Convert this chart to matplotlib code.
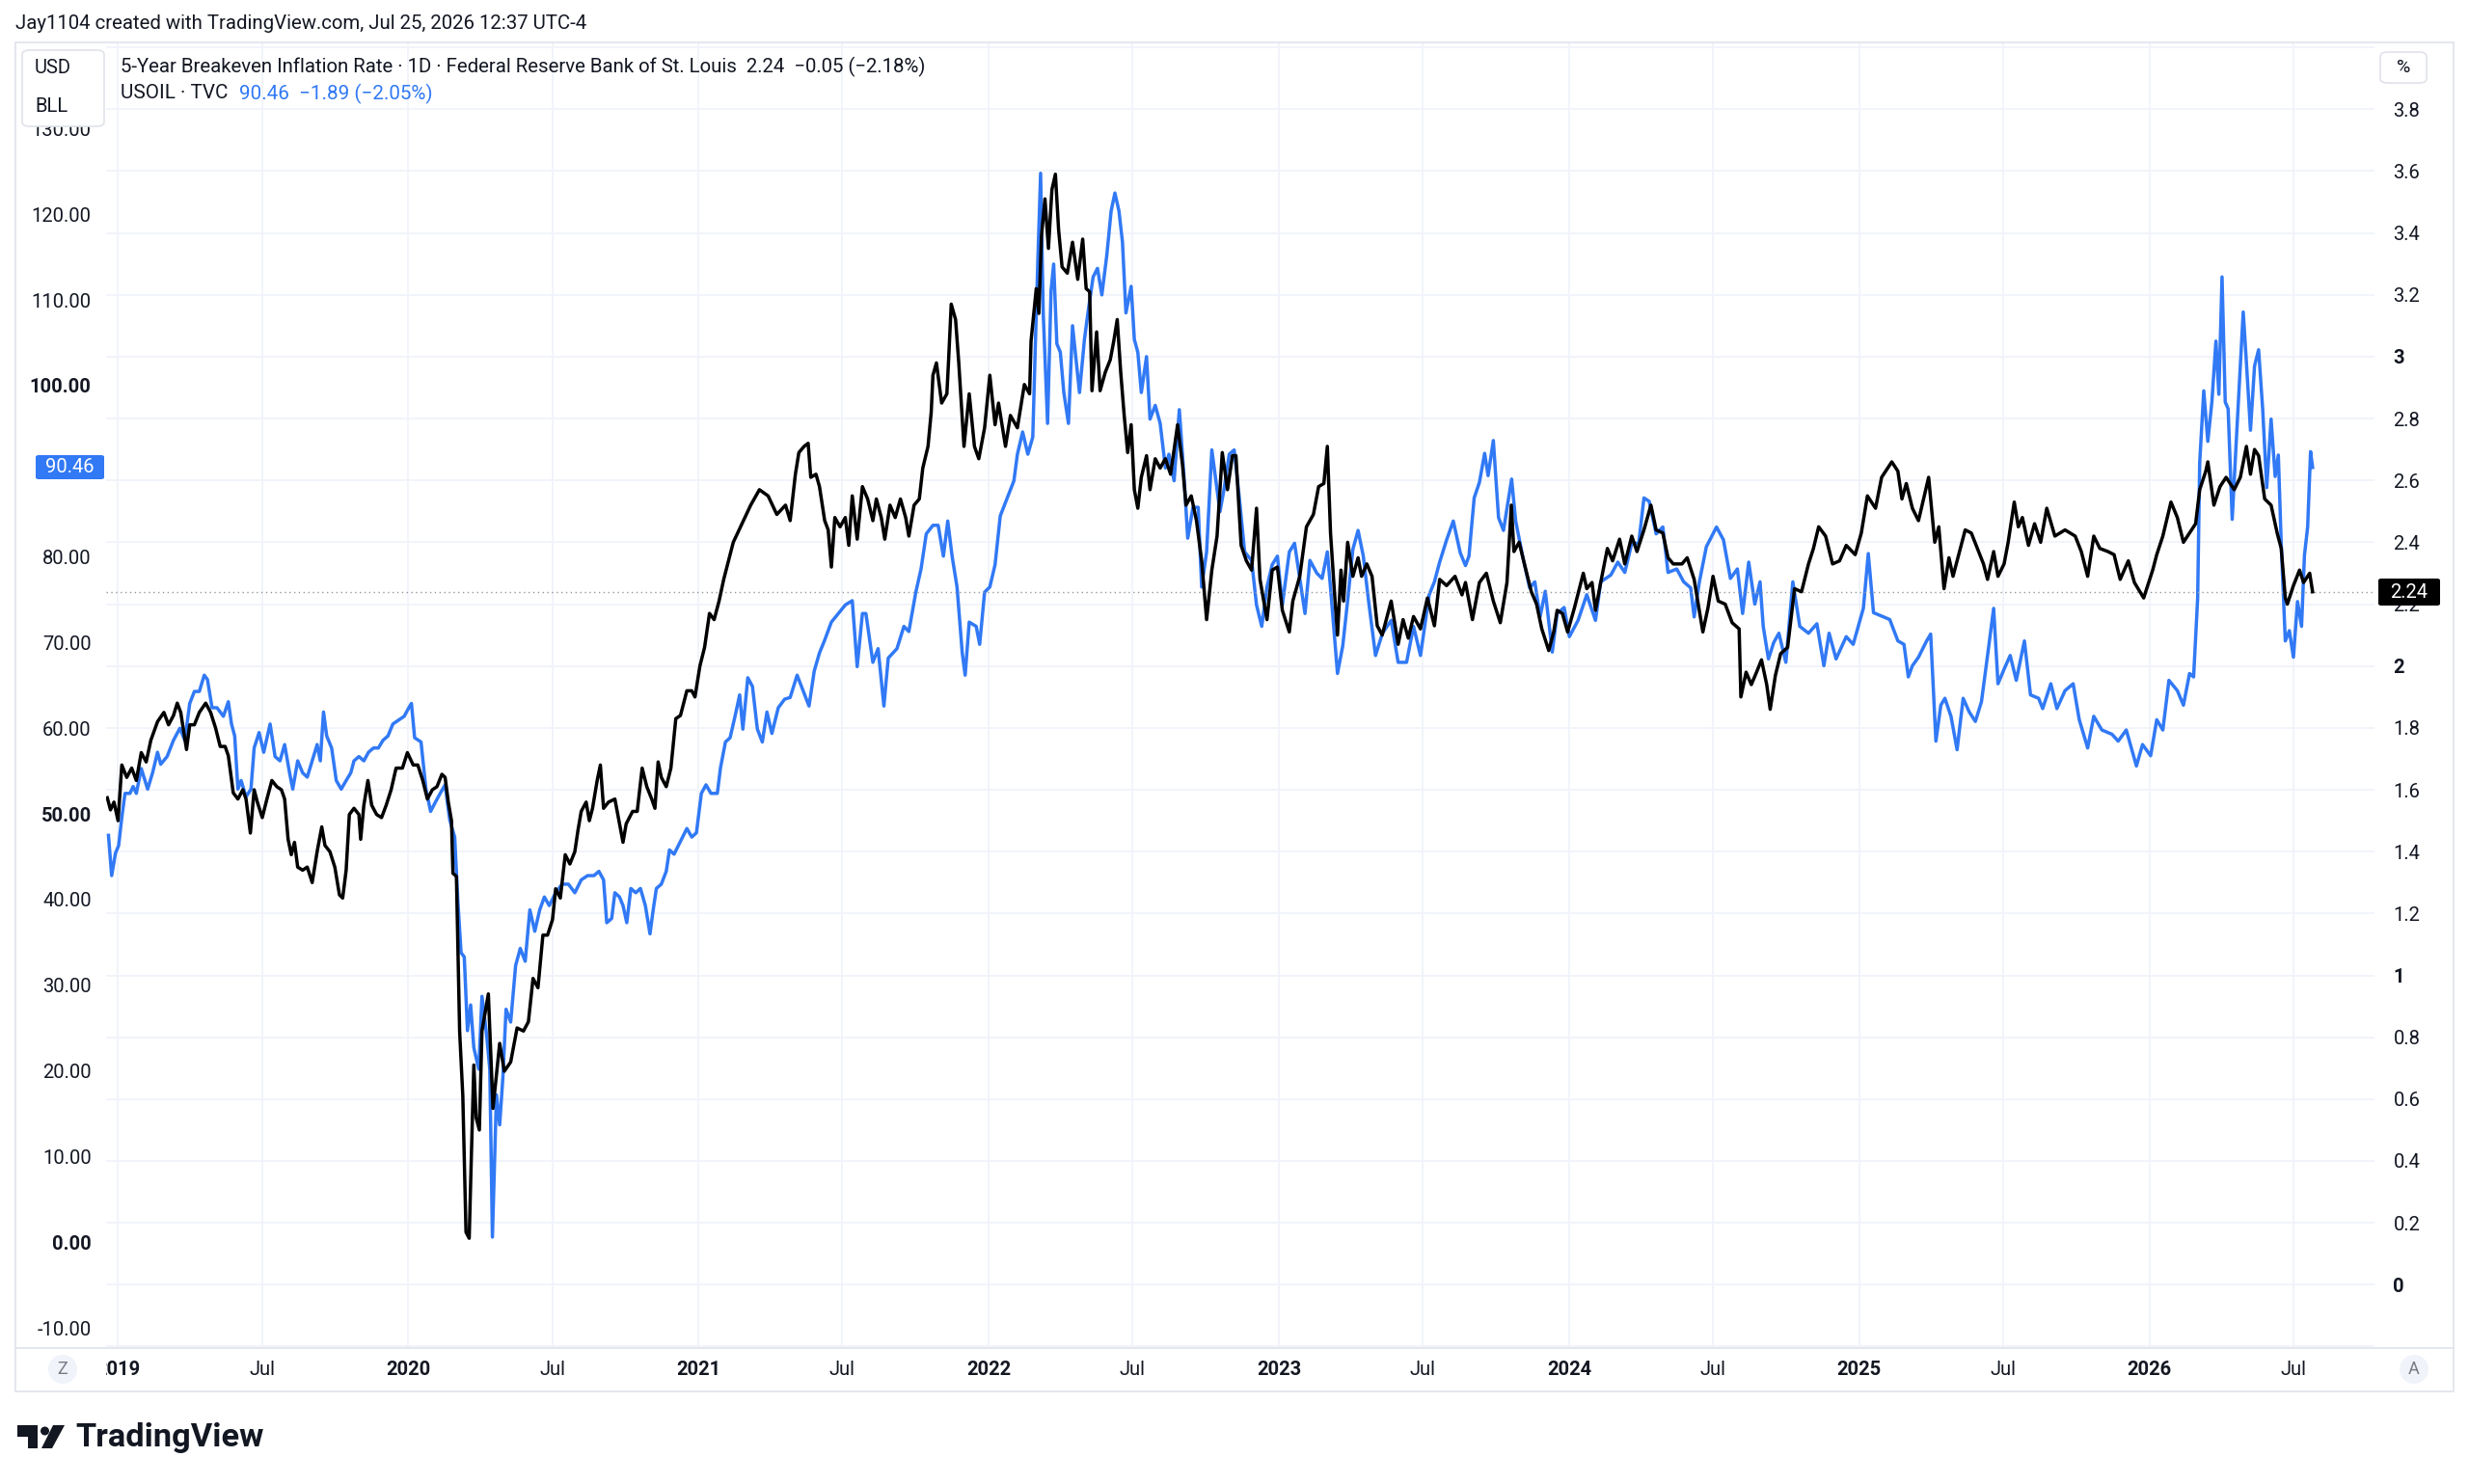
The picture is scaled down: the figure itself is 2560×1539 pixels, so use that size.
import matplotlib
matplotlib.use("Agg")
import matplotlib.pyplot as plt
from matplotlib.patches import FancyBboxPatch, Rectangle, Ellipse, Polygon
from matplotlib.lines import Line2D

plt.rcParams['font.family'] = ['Roboto', 'DejaVu Sans']

# ---------------- data (decimal years) ----------------
be_t = [2018.963, 2018.974, 2018.986, 2019.000, 2019.013, 2019.030, 2019.047, 2019.063, 2019.080, 2019.097,
        2019.113, 2019.136, 2019.158, 2019.174, 2019.191, 2019.204, 2019.216, 2019.236, 2019.247, 2019.263,
        2019.280, 2019.302, 2019.319, 2019.336, 2019.352, 2019.369, 2019.380, 2019.397, 2019.413, 2019.430,
        2019.441, 2019.456, 2019.469, 2019.480, 2019.497, 2019.513, 2019.530, 2019.547, 2019.563, 2019.574,
        2019.586, 2019.597, 2019.608, 2019.619, 2019.636, 2019.652, 2019.669, 2019.686, 2019.702, 2019.713,
        2019.730, 2019.747, 2019.763, 2019.774, 2019.786, 2019.797, 2019.813, 2019.830, 2019.836, 2019.847,
        2019.861, 2019.874, 2019.891, 2019.908, 2019.924, 2019.941, 2019.958, 2019.980, 2019.997,
        2020.017, 2020.033, 2020.050, 2020.066, 2020.083, 2020.099, 2020.116, 2020.127, 2020.138, 2020.149,
        2020.154, 2020.166, 2020.177, 2020.188, 2020.199, 2020.210, 2020.215, 2020.226, 2020.234, 2020.245,
        2020.254, 2020.276, 2020.292, 2020.304, 2020.315, 2020.331, 2020.353, 2020.375, 2020.397, 2020.414,
        2020.430, 2020.447, 2020.464, 2020.480, 2020.497, 2020.508, 2020.524, 2020.541, 2020.557, 2020.574,
        2020.585, 2020.596, 2020.613, 2020.624, 2020.635, 2020.651, 2020.662, 2020.673, 2020.690, 2020.712,
        2020.728, 2020.740, 2020.751, 2020.773, 2020.789, 2020.806, 2020.822, 2020.839, 2020.850, 2020.861,
        2020.872, 2020.889, 2020.905, 2020.922, 2020.938, 2020.960, 2020.977, 2020.988, 2021.005, 2021.021,
        2021.038, 2021.054, 2021.071, 2021.087, 2021.120, 2021.150, 2021.180, 2021.210, 2021.240, 2021.270,
        2021.300,
        2021.316, 2021.334, 2021.346, 2021.364, 2021.378, 2021.387, 2021.405, 2021.417, 2021.435, 2021.447,
        2021.458, 2021.470, 2021.488, 2021.506, 2021.518, 2021.530, 2021.547, 2021.565, 2021.583, 2021.601,
        2021.613, 2021.630, 2021.642, 2021.660, 2021.678, 2021.696, 2021.714, 2021.725, 2021.743, 2021.761,
        2021.773, 2021.791, 2021.802, 2021.808, 2021.820, 2021.838, 2021.856, 2021.862, 2021.871, 2021.886,
        2021.897, 2021.915, 2021.933, 2021.951, 2021.966, 2021.986, 2022.004, 2022.022, 2022.034, 2022.046,
        2022.058, 2022.075, 2022.099, 2022.123, 2022.141, 2022.146, 2022.164, 2022.173, 2022.182, 2022.194,
        2022.206, 2022.218, 2022.230, 2022.241, 2022.253, 2022.271, 2022.289, 2022.307, 2022.324, 2022.336,
        2022.348, 2022.356, 2022.372, 2022.384, 2022.402, 2022.419, 2022.431, 2022.443, 2022.455, 2022.467,
        2022.479, 2022.491, 2022.502, 2022.514, 2022.526, 2022.544, 2022.556, 2022.574, 2022.591, 2022.609,
        2022.627, 2022.651, 2022.668, 2022.680, 2022.698, 2022.716, 2022.734, 2022.751, 2022.769, 2022.787,
        2022.805, 2022.823, 2022.840, 2022.852, 2022.870, 2022.888, 2022.906, 2022.923, 2022.935, 2022.959,
        2022.977, 2022.995, 2023.012, 2023.036, 2023.048, 2023.072, 2023.095, 2023.119, 2023.137, 2023.155,
        2023.167,
        2023.178, 2023.190, 2023.202, 2023.214, 2023.223, 2023.237, 2023.255, 2023.273, 2023.285, 2023.303,
        2023.321, 2023.339, 2023.356, 2023.387, 2023.411, 2023.428, 2023.446, 2023.464, 2023.488, 2023.512,
        2023.536, 2023.554, 2023.578, 2023.607, 2023.631, 2023.643, 2023.667, 2023.691, 2023.715, 2023.739,
        2023.763, 2023.786, 2023.801, 2023.810, 2023.828, 2023.846, 2023.870, 2023.888, 2023.906, 2023.930,
        2023.947, 2023.959, 2023.977, 2023.995, 2024.019, 2024.049, 2024.061, 2024.079, 2024.091, 2024.109,
        2024.132, 2024.150, 2024.174, 2024.192, 2024.216, 2024.234, 2024.258, 2024.282, 2024.300, 2024.323,
        2024.341, 2024.359, 2024.389, 2024.407, 2024.431, 2024.461, 2024.479, 2024.496, 2024.514, 2024.538,
        2024.562, 2024.586, 2024.592, 2024.610, 2024.628, 2024.646, 2024.663, 2024.681, 2024.693, 2024.711,
        2024.729, 2024.753, 2024.777, 2024.801, 2024.825, 2024.842, 2024.860, 2024.884, 2024.908, 2024.932,
        2024.955,
        2024.986, 2025.007, 2025.028, 2025.056, 2025.077, 2025.112, 2025.133, 2025.147, 2025.162, 2025.183,
        2025.204, 2025.239, 2025.260, 2025.274, 2025.292, 2025.309, 2025.323, 2025.351, 2025.365, 2025.386,
        2025.407, 2025.428, 2025.442, 2025.463, 2025.478, 2025.499, 2025.513, 2025.534, 2025.548, 2025.562,
        2025.583, 2025.604, 2025.625, 2025.646, 2025.674, 2025.709, 2025.744, 2025.765, 2025.787, 2025.808,
        2025.829, 2025.857, 2025.878, 2025.899, 2025.927, 2025.948, 2025.980, 2026.011, 2026.025, 2026.046,
        2026.074, 2026.096, 2026.117, 2026.138, 2026.159, 2026.173, 2026.194, 2026.201, 2026.222, 2026.243,
        2026.264, 2026.292, 2026.313, 2026.334, 2026.348, 2026.362, 2026.376, 2026.397, 2026.419, 2026.440,
        2026.454, 2026.468, 2026.475, 2026.496, 2026.517, 2026.531, 2026.552, 2026.562]
be_v = [1.574, 1.535, 1.56, 1.50, 1.68, 1.64, 1.67, 1.63, 1.72, 1.69,
        1.76, 1.82, 1.85, 1.81, 1.84, 1.88, 1.85, 1.73, 1.81, 1.81,
        1.85, 1.88, 1.85, 1.80, 1.74, 1.74, 1.71, 1.59, 1.57, 1.60,
        1.57, 1.46, 1.60, 1.56, 1.51, 1.57, 1.63, 1.61, 1.60, 1.57,
        1.44, 1.39, 1.43, 1.35, 1.34, 1.35, 1.30, 1.40, 1.48, 1.42,
        1.40, 1.35, 1.26, 1.25, 1.34, 1.52, 1.54, 1.52, 1.44, 1.55,
        1.63, 1.55, 1.52, 1.51, 1.55, 1.60, 1.67, 1.67, 1.72,
        1.68, 1.68, 1.63, 1.57, 1.60, 1.61, 1.65, 1.64, 1.56, 1.50,
        1.33, 1.32, 0.82, 0.61, 0.17, 0.15, 0.33, 0.71, 0.54, 0.50,
        0.82, 0.94, 0.57, 0.68, 0.78, 0.69, 0.72, 0.83, 0.82, 0.85,
        0.99, 0.96, 1.13, 1.13, 1.18, 1.28, 1.25, 1.39, 1.36, 1.40,
        1.47, 1.53, 1.56, 1.50, 1.54, 1.63, 1.68, 1.54, 1.56, 1.57,
        1.49, 1.43, 1.49, 1.53, 1.53, 1.67, 1.61, 1.57, 1.54, 1.69,
        1.64, 1.61, 1.67, 1.83, 1.84, 1.92, 1.92, 1.90, 2.00, 2.06,
        2.17, 2.15, 2.21, 2.28, 2.40, 2.46, 2.52, 2.57, 2.55, 2.49,
        2.52,
        2.47, 2.62, 2.69, 2.71, 2.72, 2.61, 2.62, 2.58, 2.47, 2.44,
        2.32, 2.48, 2.45, 2.48, 2.39, 2.55, 2.41, 2.58, 2.54, 2.47,
        2.54, 2.48, 2.41, 2.52, 2.48, 2.54, 2.48, 2.42, 2.52, 2.54,
        2.64, 2.71, 2.82, 2.94, 2.98, 2.85, 2.88, 2.99, 3.17, 3.12,
        2.98, 2.71, 2.88, 2.71, 2.67, 2.77, 2.94, 2.78, 2.85, 2.78,
        2.71, 2.81, 2.77, 2.91, 2.88, 3.05, 3.22, 3.14, 3.39, 3.51,
        3.35, 3.54, 3.59, 3.41, 3.29, 3.27, 3.37, 3.25, 3.38, 3.22,
        3.21, 2.89, 3.08, 2.89, 2.95, 2.99, 3.05, 3.12, 2.95, 2.81,
        2.69, 2.78, 2.57, 2.51, 2.61, 2.68, 2.57, 2.67, 2.64, 2.67,
        2.62, 2.78, 2.65, 2.52, 2.55, 2.47, 2.34, 2.15, 2.31, 2.42,
        2.69, 2.57, 2.68, 2.68, 2.39, 2.34, 2.31, 2.51, 2.28, 2.15,
        2.31, 2.32, 2.18, 2.11, 2.21, 2.29, 2.45, 2.49, 2.58, 2.59,
        2.71,
        2.43, 2.26, 2.10, 2.31, 2.21, 2.40, 2.29, 2.35, 2.29, 2.33,
        2.29, 2.13, 2.10, 2.21, 2.07, 2.15, 2.09, 2.16, 2.12, 2.22,
        2.13, 2.28, 2.26, 2.29, 2.23, 2.27, 2.15, 2.27, 2.30, 2.21,
        2.14, 2.27, 2.52, 2.37, 2.40, 2.33, 2.24, 2.20, 2.12, 2.05,
        2.11, 2.18, 2.17, 2.11, 2.19, 2.30, 2.25, 2.27, 2.18, 2.27,
        2.38, 2.34, 2.41, 2.33, 2.42, 2.37, 2.44, 2.52, 2.44, 2.43,
        2.35, 2.33, 2.33, 2.35, 2.28, 2.11, 2.19, 2.29, 2.21, 2.20,
        2.14, 2.12, 1.90, 1.98, 1.94, 1.98, 2.02, 1.94, 1.86, 1.97,
        2.04, 2.06, 2.25, 2.24, 2.33, 2.38, 2.45, 2.42, 2.33, 2.34,
        2.39,
        2.36, 2.43, 2.55, 2.51, 2.61, 2.66, 2.63, 2.54, 2.59, 2.51,
        2.47, 2.61, 2.40, 2.45, 2.25, 2.35, 2.29, 2.39, 2.44, 2.43,
        2.38, 2.33, 2.28, 2.37, 2.29, 2.33, 2.40, 2.53, 2.45, 2.48,
        2.39, 2.46, 2.40, 2.51, 2.42, 2.44, 2.42, 2.37, 2.29, 2.42,
        2.38, 2.37, 2.36, 2.28, 2.34, 2.27, 2.22, 2.31, 2.36, 2.42,
        2.53, 2.48, 2.40, 2.43, 2.46, 2.57, 2.63, 2.66, 2.52, 2.58,
        2.61, 2.57, 2.61, 2.71, 2.62, 2.70, 2.68, 2.54, 2.52, 2.43,
        2.38, 2.22, 2.20, 2.26, 2.31, 2.27, 2.30, 2.24]

oil_t = [2018.967, 2018.978, 2018.991, 2019.002, 2019.013, 2019.024, 2019.041, 2019.052, 2019.063, 2019.080,
         2019.102, 2019.119, 2019.136, 2019.147, 2019.169, 2019.191, 2019.213, 2019.230, 2019.247, 2019.263,
         2019.280, 2019.297, 2019.308, 2019.324, 2019.341, 2019.363, 2019.380, 2019.391, 2019.402, 2019.413,
         2019.424, 2019.441, 2019.458, 2019.469, 2019.486, 2019.502, 2019.524, 2019.541, 2019.558, 2019.574,
         2019.591, 2019.602, 2019.619, 2019.636, 2019.652, 2019.669, 2019.686, 2019.697, 2019.708, 2019.719,
         2019.736, 2019.752, 2019.769, 2019.786, 2019.802, 2019.813, 2019.830, 2019.847, 2019.863, 2019.880,
         2019.897, 2019.913, 2019.930, 2019.947, 2019.969, 2019.986, 2020.002, 2020.011,
         2020.022, 2020.044, 2020.061, 2020.077, 2020.094, 2020.110, 2020.127, 2020.143, 2020.160, 2020.171,
         2020.182, 2020.193, 2020.204, 2020.215, 2020.226, 2020.243, 2020.254, 2020.270, 2020.281, 2020.290,
         2020.304, 2020.315, 2020.326, 2020.337, 2020.353, 2020.370, 2020.386, 2020.403, 2020.419, 2020.436,
         2020.453, 2020.469, 2020.486, 2020.508, 2020.530, 2020.552, 2020.574, 2020.596, 2020.618, 2020.640,
         2020.657, 2020.673, 2020.684, 2020.701, 2020.712, 2020.728, 2020.740, 2020.753, 2020.767, 2020.784,
         2020.800, 2020.817, 2020.833, 2020.844, 2020.855, 2020.872, 2020.889, 2020.900, 2020.916, 2020.938,
         2020.960, 2020.977, 2020.993, 2021.010, 2021.026, 2021.043, 2021.065, 2021.076, 2021.093, 2021.109,
         2021.126, 2021.142, 2021.153, 2021.170, 2021.186, 2021.203, 2021.220, 2021.236, 2021.253, 2021.275,
         2021.297,
         2021.316, 2021.340, 2021.364, 2021.381, 2021.399, 2021.417, 2021.435, 2021.458, 2021.482, 2021.506,
         2021.530, 2021.547, 2021.565, 2021.577, 2021.601, 2021.619, 2021.639, 2021.654, 2021.684, 2021.708,
         2021.725, 2021.749, 2021.767, 2021.785, 2021.808, 2021.826, 2021.844, 2021.859, 2021.874, 2021.891,
         2021.909, 2021.919, 2021.933, 2021.957, 2021.969, 2021.986, 2022.004, 2022.022, 2022.040, 2022.063,
         2022.087, 2022.099, 2022.117, 2022.135, 2022.152, 2022.161, 2022.170, 2022.179, 2022.188, 2022.203,
         2022.215, 2022.224, 2022.235, 2022.247, 2022.259, 2022.275, 2022.289, 2022.313, 2022.330, 2022.342,
         2022.360, 2022.375, 2022.390, 2022.407, 2022.422, 2022.435, 2022.449, 2022.461, 2022.473, 2022.491,
         2022.502, 2022.514, 2022.526, 2022.544, 2022.556, 2022.574, 2022.591, 2022.609, 2022.621, 2022.639,
         2022.657, 2022.674, 2022.686, 2022.704, 2022.722, 2022.734, 2022.751, 2022.769, 2022.781, 2022.797,
         2022.811, 2022.829, 2022.846, 2022.864, 2022.882, 2022.906, 2022.923, 2022.941, 2022.959, 2022.977,
         2022.995, 2023.012, 2023.036, 2023.054, 2023.072, 2023.090, 2023.107, 2023.131, 2023.149, 2023.167,
         2023.178, 2023.202, 2023.220, 2023.237, 2023.255, 2023.273, 2023.291, 2023.309, 2023.333, 2023.357,
         2023.387, 2023.411, 2023.440, 2023.464, 2023.488, 2023.518, 2023.536, 2023.554, 2023.578, 2023.601,
         2023.625, 2023.643, 2023.655, 2023.673, 2023.691, 2023.709, 2023.721, 2023.739, 2023.757, 2023.774,
         2023.802, 2023.816, 2023.840, 2023.864, 2023.882, 2023.900, 2023.918, 2023.942, 2023.959, 2023.983,
         2024.001, 2024.031, 2024.061, 2024.091, 2024.109, 2024.144, 2024.168, 2024.192, 2024.216, 2024.240,
         2024.258, 2024.276, 2024.300, 2024.323, 2024.341, 2024.371, 2024.395, 2024.419, 2024.431, 2024.449,
         2024.473, 2024.508, 2024.532, 2024.556, 2024.580, 2024.598, 2024.619, 2024.640, 2024.658, 2024.669,
         2024.687, 2024.705, 2024.723, 2024.747, 2024.771, 2024.795, 2024.825, 2024.854, 2024.878, 2024.896,
         2024.920, 2024.955,
         2024.979, 2025.000, 2025.014, 2025.031, 2025.049, 2025.077, 2025.105, 2025.133, 2025.154, 2025.169,
         2025.183, 2025.204, 2025.232, 2025.246, 2025.264, 2025.281, 2025.295, 2025.316, 2025.337, 2025.358,
         2025.379, 2025.400, 2025.421, 2025.442, 2025.463, 2025.478, 2025.499, 2025.520, 2025.541, 2025.569,
         2025.590, 2025.618, 2025.632, 2025.660, 2025.681, 2025.709, 2025.737, 2025.758, 2025.787, 2025.808,
         2025.836, 2025.871, 2025.892, 2025.920, 2025.955, 2025.976, 2026.004, 2026.025, 2026.046, 2026.067,
         2026.096, 2026.117, 2026.138, 2026.152, 2026.166, 2026.173, 2026.187, 2026.201, 2026.215, 2026.229,
         2026.239, 2026.250, 2026.261, 2026.271, 2026.285, 2026.299, 2026.323, 2026.334, 2026.348, 2026.362,
         2026.376, 2026.390, 2026.404, 2026.419, 2026.433, 2026.444, 2026.454, 2026.468, 2026.482, 2026.496,
         2026.510, 2026.524, 2026.534, 2026.545, 2026.555, 2026.562]
oil_v = [47.5, 42.8, 45.4, 46.3, 49.6, 52.4, 52.4, 53.2, 52.4, 55.3,
         52.9, 54.8, 57.2, 55.8, 56.7, 58.6, 60.0, 58.6, 62.9, 64.3,
         64.3, 66.2, 65.7, 62.4, 62.4, 61.4, 63.1, 60.5, 59.1, 52.9,
         53.9, 52.0, 52.9, 57.7, 59.5, 57.2, 60.5, 56.7, 56.2, 58.1,
         54.8, 52.9, 56.2, 54.8, 54.3, 56.2, 58.1, 56.2, 61.9, 59.1,
         57.7, 53.9, 52.9, 53.9, 54.8, 56.2, 56.7, 56.2, 57.2, 57.7,
         57.7, 58.6, 59.1, 60.5, 61.0, 61.4, 62.4, 62.9,
         58.9, 58.4, 52.9, 50.3, 51.4, 52.4, 53.4, 49.3, 47.3, 39.8,
         33.8, 33.3, 24.7, 27.7, 22.7, 20.2, 28.7, 24.2, 20.2, 0.6,
         17.2, 13.7, 19.2, 27.2, 25.7, 32.3, 34.3, 32.8, 38.8, 36.3,
         38.8, 40.3, 39.3, 40.8, 41.8, 41.8, 40.8, 42.3, 42.8, 42.8,
         43.3, 42.3, 37.3, 37.8, 40.8, 40.3, 39.3, 37.3, 41.3, 40.8,
         41.3, 39.3, 36.0, 38.8, 41.3, 41.8, 43.3, 45.8, 45.3, 46.8,
         48.3, 47.3, 47.8, 52.4, 53.4, 52.4, 52.4, 55.4, 58.4, 58.9,
         61.4, 63.9, 59.9, 65.9, 64.9, 59.9, 58.4, 61.9, 59.4, 62.4,
         63.4,
         63.6, 66.2, 64.1, 62.6, 66.7, 68.8, 70.3, 72.4, 73.4, 74.4,
         74.9, 67.2, 73.4, 73.4, 67.7, 69.3, 62.6, 68.2, 69.3, 71.9,
         71.3, 75.9, 78.6, 82.7, 83.7, 83.7, 80.1, 84.2, 80.1, 76.5,
         68.8, 66.2, 72.4, 71.9, 69.8, 75.9, 76.5, 79.1, 84.8, 86.8,
         88.9, 92.0, 94.6, 92.0, 94.0, 104.9, 115.2, 124.8, 108.5, 95.6,
         111.1, 114.2, 104.9, 103.9, 99.2, 95.6, 107.0, 99.2, 105.4, 108.5,
         112.7, 113.7, 110.6, 115.2, 120.4, 122.5, 120.4, 116.8, 108.5, 111.6,
         105.4, 103.9, 99.2, 103.4, 96.1, 97.7, 95.6, 90.4, 92.0, 88.9,
         97.2, 88.9, 82.2, 85.8, 85.8, 76.5, 80.6, 92.5, 89.4, 85.3,
         87.9, 92.0, 92.5, 86.8, 80.6, 79.6, 74.4, 71.9, 76.5, 79.1,
         80.1, 74.4, 80.6, 81.6, 77.5, 73.4, 79.6, 78.1, 77.5, 80.6,
         76.4, 66.4, 69.6, 74.9, 80.9, 83.1, 80.1, 74.9, 68.5, 71.1,
         72.6, 67.7, 67.7, 71.9, 68.5, 75.6, 77.1, 79.4, 82.0, 84.2,
         80.5, 79.0, 80.1, 86.9, 88.7, 92.1, 89.5, 93.6, 84.6, 83.1,
         89.1, 84.2, 80.1, 76.4, 77.1, 73.0, 76.0, 68.9, 73.4, 74.1,
         70.7, 72.6, 75.6, 72.6, 77.1, 77.9, 79.4, 78.2, 81.6, 81.6,
         86.9, 86.5, 82.7, 83.5, 78.2, 78.6, 77.1, 76.4, 73.0, 77.1,
         81.2, 83.5, 82.0, 77.5, 78.6, 73.4, 79.4, 74.5, 77.1, 71.9,
         68.1, 70.0, 71.1, 67.7, 77.1, 71.9, 71.1, 72.2, 67.3, 71.1,
         68.1, 70.7,
         69.8, 72.3, 74.0, 80.4, 73.5, 73.1, 72.7, 70.2, 69.8, 66.0,
         67.3, 68.3, 70.2, 71.0, 58.5, 62.7, 63.5, 61.4, 57.5, 63.5,
         61.9, 60.8, 63.1, 68.5, 74.0, 65.2, 66.9, 68.5, 65.6, 70.2,
         63.9, 63.5, 62.3, 65.2, 62.3, 64.4, 65.2, 61.0, 57.7, 61.4,
         59.8, 59.3, 58.5, 59.8, 55.6, 58.1, 56.8, 61.0, 59.8, 65.6,
         64.4, 62.7, 66.4, 66.0, 75.2, 91.0, 99.4, 93.5, 98.1, 105.2,
         99.0, 112.7, 98.1, 97.3, 84.4, 93.5, 108.6, 102.7, 94.8, 102.3,
         104.2, 97.3, 88.1, 96.1, 89.4, 91.9, 81.5, 70.2, 71.4, 68.3,
         74.8, 71.9, 80.2, 83.5, 92.3, 90.46]

# left-scale labels (90.00 sits under the last-price tag, so it is not shown)
oil_ticks = [-10, 0, 10, 20, 30, 40, 50, 60, 70, 80, 100, 110, 120, 130]
be_ticks = [0, 0.2, 0.4, 0.6, 0.8, 1, 1.2, 1.4, 1.6, 1.8, 2, 2.2, 2.4, 2.6, 2.8, 3, 3.2, 3.4, 3.6, 3.8]
time_ticks = [2019.0, 2019.496, 2020.0, 2020.496, 2021.0, 2021.496, 2022.0, 2022.496, 2023.0, 2023.496,
              2024.0, 2024.496, 2025.0, 2025.496, 2026.0, 2026.496]
time_labels = ["2019", "Jul", "2020", "Jul", "2021", "Jul", "2022", "Jul", "2023", "Jul",
               "2024", "Jul", "2025", "Jul", "2026", "Jul"]

oil_last = 90.46
be_last = 2.24

# ---------------- layout helpers ----------------
W, H = 2560, 1539
fig = plt.figure(figsize=(W / 100, H / 100), dpi=100)
fig.patch.set_facecolor("white")


def fx(x):
    return x / W


def fy(y):
    return 1 - y / H


BLUE = "#3179F5"
TXT = "#131722"
GRID = "#F0F3FA"
BORDER = "#E0E3EB"

PL, PR, PT, PB = 110, 2462, 44, 1398   # plot area in pixels
FL, FR, FT, FB = 16, 2544, 44, 1443    # chart frame

# frame
fig.add_artist(Rectangle((fx(FL), fy(FB)), fx(FR) - fx(FL), fy(FT) - fy(FB), transform=fig.transFigure,
                         fill=False, edgecolor=BORDER, lw=1.2))
fig.add_artist(Line2D([fx(FL), fx(FR)], [fy(PB), fy(PB)], transform=fig.transFigure, color=BORDER, lw=1.2))

ax_oil = fig.add_axes([fx(PL), fy(PB), fx(PR) - fx(PL), fy(PT) - fy(PB)])
ax_be = ax_oil.twinx()

XMIN, XMAX = 2018.9588, 2026.7753
ax_oil.set_xlim(XMIN, XMAX)
ax_oil.set_ylim(-12.36, 140.08)
ax_be.set_ylim(-0.2048, 4.0159)

for a in (ax_oil, ax_be):
    for s in a.spines.values():
        s.set_visible(False)
    a.set_facecolor("none")
ax_oil.set_facecolor("white")
ax_oil.set_xticks([])

# grid: vertical at time ticks, horizontal at right-scale ticks
for t in time_ticks:
    ax_oil.axvline(t, color=GRID, lw=1.3, zorder=0)
for b in [-0.2] + be_ticks + [4.0]:
    ax_oil.plot([XMIN, XMAX], [b, b], transform=ax_be.transData, color=GRID, lw=1.3, zorder=0,
                scalex=False, scaley=False)

# series
ax_oil.plot(oil_t, oil_v, color=BLUE, lw=2.5, zorder=3, solid_joinstyle="round")
ax_be.plot(be_t, be_v, color="black", lw=2.5, zorder=3, solid_joinstyle="round")
ax_be.axhline(be_last, color="#9598A1", lw=1.0, ls=(0, (1, 2.5)), zorder=2)

# left scale labels
ax_oil.set_yticks(oil_ticks)
ax_oil.set_yticklabels([f"{v:.2f}" for v in oil_ticks])
ax_oil.tick_params(axis="y", length=0, pad=11, labelsize=14.5, labelcolor=TXT)
for lab, v in zip(ax_oil.get_yticklabels(), oil_ticks):
    if v in (0, 50, 100):
        lab.set_fontweight("bold")

# right scale labels
ax_be.set_yticks(be_ticks)
ax_be.set_yticklabels([f"{v:g}" for v in be_ticks])
ax_be.tick_params(axis="y", length=0, pad=14, labelsize=14.5, labelcolor=TXT)
for lab, v in zip(ax_be.get_yticklabels(), be_ticks):
    if v in (0, 1, 2, 3):
        lab.set_fontweight("bold")

# time axis labels (clipped to the plot width)
ax_time = fig.add_axes([fx(PL), fy(FB), fx(PR) - fx(PL), fy(PB) - fy(FB)])
ax_time.set_xlim(XMIN, XMAX)
ax_time.set_ylim(0, 1)
ax_time.axis("off")
for t, lab in zip(time_ticks, time_labels):
    ax_time.text(t, 0.5, lab, ha="center", va="center", fontsize=14.5, color=TXT,
                 fontweight=("normal" if lab == "Jul" else "bold"), clip_on=True)

# Z / A buttons (round)
for (cx, letter) in ((65, "Z"), (2503, "A")):
    fig.add_artist(Ellipse((fx(cx), fy(1420)), 30 / W, 30 / H, transform=fig.transFigure,
                           facecolor="#F0F3FA", edgecolor="none"))
    fig.text(fx(cx), fy(1420), letter, ha="center", va="center", fontsize=13, color="#787B86")

# last price boxes
fig.add_artist(FancyBboxPatch((fx(37), fy(497)), fx(108) - fx(37), fy(472) - fy(497),
                              boxstyle="round,pad=0,rounding_size=0.0012", transform=fig.transFigure,
                              facecolor=BLUE, edgecolor="none", zorder=5))
fig.text(fx(72.5), fy(485), "90.46", ha="center", va="center", fontsize=14.5, color="white", zorder=6)
fig.add_artist(FancyBboxPatch((fx(2466), fy(628)), fx(2530) - fx(2466), fy(600) - fy(628),
                              boxstyle="round,pad=0,rounding_size=0.0012", transform=fig.transFigure,
                              facecolor="black", edgecolor="none", zorder=5))
fig.text(fx(2498), fy(614), "2.24", ha="center", va="center", fontsize=14.5, color="white", zorder=6)

# USD / BLL box
fig.add_artist(FancyBboxPatch((fx(23), fy(131)), fx(108) - fx(23), fy(52) - fy(131),
                              boxstyle="round,pad=0,rounding_size=0.003", transform=fig.transFigure,
                              facecolor="white", edgecolor=BORDER, lw=1.2, zorder=5))
fig.text(fx(36), fy(71), "USD", ha="left", va="center", fontsize=14.5, color=TXT, zorder=6)
fig.text(fx(36), fy(110), "BLL", ha="left", va="center", fontsize=14.5, color=TXT, zorder=6)

# % box
fig.add_artist(FancyBboxPatch((fx(2468), fy(86)), fx(2516) - fx(2468), fy(54) - fy(86),
                              boxstyle="round,pad=0,rounding_size=0.003", transform=fig.transFigure,
                              facecolor="white", edgecolor=BORDER, lw=1.2, zorder=5))
fig.text(fx(2492), fy(70), "%", ha="center", va="center", fontsize=14, color=TXT, zorder=6)

# header + legend texts
renderer = fig.canvas.get_renderer()


def fit_text(x, y, s, target_w, size, **kw):
    t = fig.text(fx(x), fy(y), s, ha="left", va="center", fontsize=size, **kw)
    w = t.get_window_extent(renderer).width
    t.set_fontsize(size * target_w / w)
    return t


fit_text(16, 24, "Jay1104 created with TradingView.com, Jul 25, 2026 12:37 UTC-4", 596, 14, color=TXT)
fit_text(125, 69, "5-Year Breakeven Inflation Rate · 1D · Federal Reserve Bank of St. Louis  2.24  \u22120.05 (\u22122.18%)",
         845, 14, color=TXT, zorder=6)
fit_text(125, 97, "USOIL · TVC", 111, 14, color=TXT, zorder=6)
fit_text(248, 97, "90.46  \u22121.89 (\u22122.05%)", 202, 14, color=BLUE, zorder=6)

# TradingView logo
LOGO = "#131722"
fig.add_artist(Rectangle((fx(18), fy(1490)), fx(39) - fx(18), fy(1478) - fy(1490),
                         transform=fig.transFigure, facecolor=LOGO, edgecolor="none"))
fig.add_artist(Rectangle((fx(29), fy(1502)), fx(39) - fx(29), fy(1478) - fy(1502),
                         transform=fig.transFigure, facecolor=LOGO, edgecolor="none"))
fig.add_artist(Ellipse((fx(46.5), fy(1484)), 9 / W, 9 / H, transform=fig.transFigure,
                       facecolor=LOGO, edgecolor="none"))
fig.add_artist(Polygon([(fx(55), fy(1478)), (fx(67), fy(1478)), (fx(54), fy(1502)), (fx(43), fy(1502))],
                       closed=True, transform=fig.transFigure, facecolor=LOGO, edgecolor="none"))
fit_text(78, 1491, "TradingView", 195, 24, color=LOGO, fontweight="bold")

fig.savefig("out.png", dpi=100, facecolor="white")
